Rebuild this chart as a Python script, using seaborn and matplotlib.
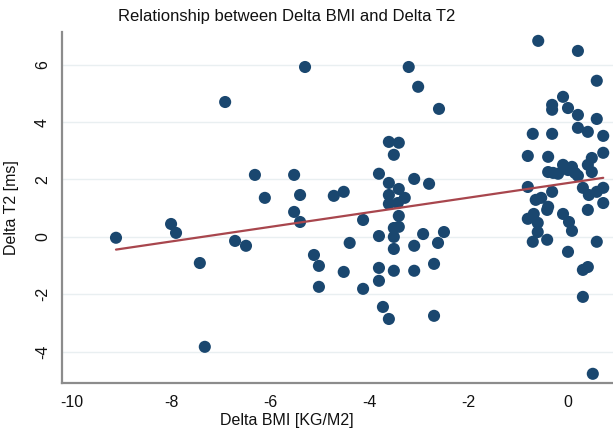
import matplotlib
matplotlib.use("Agg")
import matplotlib.pyplot as plt
import seaborn as sns
import pandas as pd

# values
delta_bmi = [
    -9.11, -8.00, -7.90, -7.42, -7.32, -6.91, -5.30, -6.31, -6.11, -5.52,
    -5.40, -5.52, -5.40, -6.71, -6.49, -5.12, -5.02, -5.02, -4.13, -4.72,
    -4.52, -4.40, -4.52, -4.13, -3.81, -3.81, -3.81, -3.73, -3.61, -3.51,
    -3.51, -3.51, -3.51, -3.41, -3.41, -3.10, -3.10, -2.92, -2.62, -2.50,
    -2.70, -2.70, -3.21, -3.02, -2.60, -3.61, -3.41, -3.51, -3.81, -3.61,
    -3.41, -3.61, -3.29, -3.61, -3.43, -3.10, -2.80,
    -0.60, 0.20, 0.58, -0.10, -0.32, -0.32, 0.00, 0.20, 0.58, 0.20,
    0.40, 0.71, -0.71, -0.32, -0.81, -0.40, 0.71, 0.48, 0.40, 0.48,
    -0.40, -0.30, -0.20, -0.10, 0.08, 0.14, 0.20, 0.00, -0.81, -0.32,
    -0.54, 0.30, 0.42, 0.58, 0.71, 0.71, -0.65, -0.42, -0.81, -0.69,
    -0.61, -0.61, -0.71, -0.42, -0.10, 0.02, 0.08, 0.00, 0.40, 0.58,
    0.30, 0.40, 0.30, 0.50, -0.40,
]
delta_t2 = [
    -0.03, 0.45, 0.14, -0.91, -3.83, 4.70, 5.92, 2.16, 1.36, 2.16,
    1.46, 0.87, 0.52, -0.14, -0.31, -0.63, -1.01, -1.74, 0.59, 1.43,
    1.57, -0.21, -1.22, -1.81, 0.03, -1.08, -1.53, -2.44, -2.86, -0.42,
    -1.18, 0.00, 0.31, 0.35, 0.73, -0.31, -1.18, 0.10, -0.21, 0.17,
    -0.94, -2.75, 5.92, 5.23, 4.46, 3.31, 3.28, 2.86, 2.20, 1.88,
    1.67, 1.46, 1.36, 1.15, 1.18, 2.02, 1.85,
    6.83, 6.48, 5.44, 4.88, 4.60, 4.43, 4.49, 4.25, 4.11, 3.80,
    3.66, 3.52, 3.59, 3.59, 2.82, 2.79, 2.93, 2.75, 2.51, 2.26,
    2.26, 2.23, 2.20, 2.51, 2.44, 2.23, 2.13, 2.33, 1.74, 1.57,
    1.36, 1.71, 1.46, 1.57, 1.71, 1.18, 1.29, 0.94, 0.63, 0.80,
    0.49, 0.17, -0.17, -0.10, 0.80, 0.52, 0.21, -0.52, 0.94, -0.17,
    -1.15, -1.05, -2.09, -4.77, 1.05,
]
x_ticks = [-10, -8, -6, -4, -2, 0]
y_ticks = [-4, -2, 0, 2, 4, 6]

df = pd.DataFrame({"bmi": delta_bmi, "t2": delta_t2})

sns.set_style("white")
plt.rcParams["font.family"] = ["Liberation Sans", "DejaVu Sans"]
plt.rcParams["axes.unicode_minus"] = False

fig = plt.figure(figsize=(6.13, 4.38), dpi=100)
ax = fig.add_axes([0.101, 0.1256, 0.899, 0.8014])

sns.regplot(
    data=df, x="bmi", y="t2", ax=ax, ci=None,
    scatter_kws={"s": 76, "color": "#1a476f", "edgecolor": "none", "alpha": 1, "zorder": 3},
    line_kws={"color": "#a8464d", "linewidth": 1.6, "zorder": 4},
)

ax.set_xlim(-10.2, 0.907)
ax.set_ylim(-5.09, 7.14)
ax.set_xticks(x_ticks)
ax.set_yticks(y_ticks)
ax.yaxis.grid(True, color="#e9eff1", linewidth=1)
ax.set_axisbelow(True)

sns.despine(ax=ax)
for side in ["left", "bottom"]:
    ax.spines[side].set_color("#8c8c8c")
    ax.spines[side].set_linewidth(1.6)

ax.tick_params(axis="both", direction="out", length=5, width=1.2, color="#8c8c8c",
               labelsize=11.5, labelcolor="#111111")
ax.tick_params(axis="y", labelrotation=90)
for lbl in ax.get_yticklabels():
    lbl.set_va("center")

ax.set_xlabel("Delta BMI [KG/M2]", fontsize=11.5, color="#111111")
ax.set_ylabel("Delta T2 [ms]", fontsize=11.5, color="#111111")
ax.xaxis.set_label_coords((287 - 62) / 551, -0.085)
ax.yaxis.set_label_coords(-0.078, 0.5)

fig.text(287 / 613, 0.962, "Relationship between Delta BMI and Delta T2",
         ha="center", va="center", fontsize=12, color="#111111")

fig.savefig("out.png", dpi=100)
